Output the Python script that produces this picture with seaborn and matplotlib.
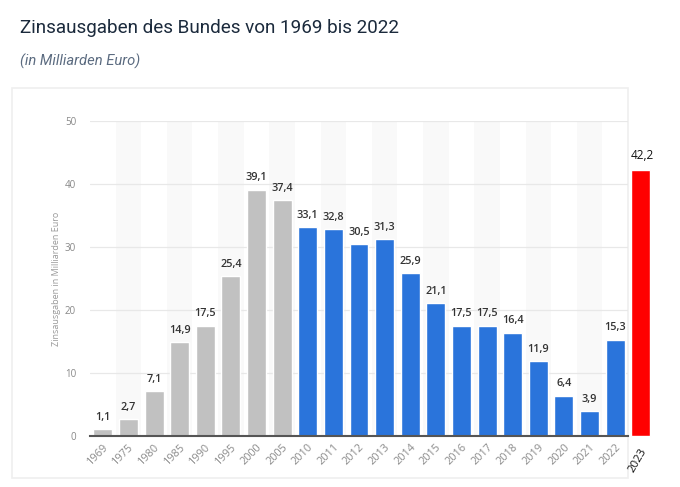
import numpy as np
import pandas as pd
import matplotlib
matplotlib.use("Agg")
import matplotlib.pyplot as plt
import seaborn as sns
from matplotlib.patches import Rectangle

# Daten (Milliarden Euro)
years = ["1969", "1975", "1980", "1985", "1990", "1995", "2000", "2005",
         "2010", "2011", "2012", "2013", "2014", "2015", "2016", "2017",
         "2018", "2019", "2020", "2021", "2022", "2023"]
values = [1.1, 2.7, 7.1, 14.9, 17.5, 25.4, 39.1, 37.4,
          33.1, 32.8, 30.5, 31.3, 25.9, 21.1, 17.5, 17.5,
          16.4, 11.9, 6.4, 3.9, 15.3, 42.2]
labels = ["1,1", "2,7", "7,1", "14,9", "17,5", "25,4", "39,1", "37,4",
          "33,1", "32,8", "30,5", "31,3", "25,9", "21,1", "17,5", "17,5",
          "16,4", "11,9", "6,4", "3,9", "15,3", "42,2"]
yticks = [0, 10, 20, 30, 40, 50]

grey = "#c1c1c1"
blue = "#2a74db"
red = "#ff0000"
colors = [grey] * 8 + [blue] * 13 + [red]

df = pd.DataFrame({"Jahr": years, "Wert": values})

sns.set_style("white")
plt.rcParams["font.family"] = ["Open Sans", "DejaVu Sans"]

fig = plt.figure(figsize=(6.8, 4.87), dpi=100)
fig.patch.set_facecolor("white")

# Karte mit leichtem Schatten
card = Rectangle((12 / 680, 1 - 478 / 487), (628 - 12) / 680, (478 - 88) / 487,
                 transform=fig.transFigure, facecolor="white",
                 edgecolor="#efefef", linewidth=1.2, zorder=-10)
fig.patches.append(card)

fig.text(20 / 680, 1 - 28 / 487, "Zinsausgaben des Bundes von 1969 bis 2022",
         fontsize=13.6, color="#1b2a3c", va="center", ha="left",
         family=["Roboto", "DejaVu Sans"])
fig.text(20 / 680, 1 - 61 / 487, "(in Milliarden Euro)", fontsize=10.6,
         style="italic", color="#5b6b80", va="center", ha="left",
         family=["Roboto", "DejaVu Sans"])

n_main = len(years) - 1
ax = fig.add_axes([90 / 680, 1 - 436 / 487, 538 / 680, 315 / 487])
ax.set_facecolor("none")

# abwechselnde Streifen
for i in range(1, n_main, 2):
    ax.axvspan(i - 0.5, i + 0.5, ymin=0, ymax=1, color="#f9f9f9", zorder=0, lw=0)

for t in yticks[1:]:
    ax.axhline(t, color="#e8e8e8", lw=0.9, zorder=1)

sns.barplot(data=df, x="Jahr", y="Wert", hue="Jahr", palette=colors,
            legend=False, width=0.74, saturation=1, ax=ax, zorder=2)

for p in ax.patches:
    p.set_clip_on(False)

ax.set_xlim(-0.5, n_main - 0.5)
ax.set_ylim(0, 50)

for i, (v, lab) in enumerate(zip(values, labels)):
    if i == n_main:
        ax.text(i + 0.06, v + 1.3, lab, ha="center", va="bottom", fontsize=8.5,
                color="#111111", clip_on=False)
    else:
        ax.text(i, v + 1.0, lab, ha="center", va="bottom", fontsize=7.8,
                color="#333333", fontweight="semibold")

ax.set_xticks(range(n_main))
ax.set_xticklabels(years[:n_main], rotation=45, ha="right",
                   rotation_mode="anchor", fontsize=7.8, color="#8a8a8a")
ax.text(n_main - 0.05, -1.6, years[-1], rotation=60, ha="right", va="top",
        rotation_mode="anchor", fontsize=8.2, color="#111111", clip_on=False)

ax.set_yticks(yticks)
ax.set_yticklabels([str(t) for t in yticks], fontsize=7, color="#888888")
ax.tick_params(axis="both", length=0)
ax.tick_params(axis="y", pad=10)
ax.tick_params(axis="x", pad=4)

ax.set_xlabel("")
ax.set_ylabel("Zinsausgaben in Milliarden Euro", fontsize=6.5, color="#999999",
              labelpad=3)

for s in ["top", "right", "left"]:
    ax.spines[s].set_visible(False)
ax.spines["bottom"].set_color("#555555")
ax.spines["bottom"].set_linewidth(1.5)
ax.spines["bottom"].set_zorder(3)

fig.savefig("out.png", dpi=100)
